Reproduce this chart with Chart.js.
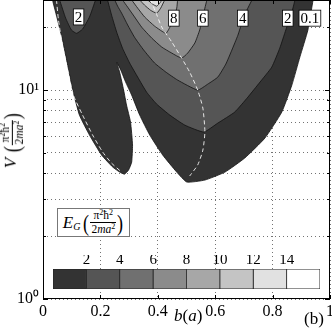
<!DOCTYPE html>
<html>
<head>
<meta charset="utf-8">
<script src="https://cdn.jsdelivr.net/npm/chart.js@4.4.1/dist/chart.umd.min.js"></script>
<style>
html, body { margin: 0; padding: 0; background: #fff; }
#wrap { position: relative; width: 332px; height: 328px; overflow: hidden; font-family: "Liberation Serif", serif; color: #000; }
#main { position: absolute; left: 0; top: 0; }
#cbar { position: absolute; left: 53px; top: 255px; }
.t { position: absolute; white-space: nowrap; line-height: 1; }
.frac { display: inline-block; vertical-align: middle; text-align: center; font-size: 11.5px; line-height: 1.1; }
.frac span { display: block; padding: 0 1px; }
.frac .num { border-bottom: 1px solid #000; }
.par { display: inline-block; font-size: 24px; vertical-align: middle; transform: scaleX(0.75); }
sup { font-size: 8px; vertical-align: 4px; line-height: 0; }
</style>
</head>
<body>
<div id="wrap">
  <canvas id="main" width="332" height="328"></canvas>
  <canvas id="cbar" width="267" height="34"></canvas>
  <div class="t" style="left:12px;top:140px;transform:translate(-50%,-50%) rotate(-90deg);font-size:17px">
    <i>V</i> <span class="par">(</span><span class="frac"><span class="num">π<sup>2</sup>ħ<sup>2</sup></span><span>2<i>ma</i><sup>2</sup></span></span><span class="par">)</span>
  </div>
  <div class="t" style="left:57px;top:208px;width:71px;height:27px;border:1px solid #777;background:#fff;font-size:17px;display:flex;align-items:center;justify-content:center">
    <i>E</i><span style="font-size:10px;position:relative;top:4px;margin-right:2px"><i>G</i></span><span class="par">(</span><span class="frac"><span class="num">π<sup>2</sup>ħ<sup>2</sup></span><span>2<i>ma</i><sup>2</sup></span></span><span class="par">)</span>
  </div>
  <div class="t" style="left:174px;top:307px;font-size:17px"><i>b</i>(<i>a</i>)</div>
  <div class="t" style="left:304px;top:310px;font-size:17px">(b)</div>
</div>
<script>
// grey levels of the filled contours (E_G bands 0.1-2, 2-4, ... 14-16)
const levelColors = ['#333333', '#555555', '#707070', '#8b8b8b', '#a7a7a7', '#c4c4c4', '#e1e1e1', '#ffffff'];
const cbLevels = [0, 2, 4, 6, 8, 10, 12, 14, 16];
const cbTickLabels = ['', '2', '4', '6', '8', '10', '12', '14', ''];

const xTicks = [0, 0.2, 0.4, 0.6, 0.8, 1];
const xTickLabels = ['0', '0.2', '0.4', '0.6', '0.8', '1'];
const yGrid = [1, 2, 3, 4, 5, 6, 7, 8, 9, 10, 20];
const yLabelValues = [1, 10];
const yLabelTexts = ['10\u2070', '10\u00b9'];

// contour outlines, [b, V]
const contour01 = [[0.033, 27], [0.051, 21.6], [0.068, 17.35], [0.086, 13.17], [0.103, 10.1], [0.127, 7.59],
  [0.162, 6.09], [0.204, 4.89], [0.243, 4.28], [0.267, 4.05], [0.284, 3.96], [0.298, 4.14], [0.309, 4.52],
  [0.312, 5.46], [0.305, 7.03], [0.291, 8.48], [0.281, 10], [0.267, 12.2], [0.257, 13.61], [0.271, 12.47],
  [0.288, 10.92], [0.309, 9.46], [0.337, 7.59], [0.372, 6.09], [0.417, 4.89], [0.466, 4.05], [0.501, 3.63],
  [0.564, 3.71], [0.634, 4.05], [0.703, 4.73], [0.773, 5.89], [0.832, 7.85], [0.867, 10.56], [0.895, 14.39],
  [0.923, 19.4], [0.941, 27]];
const contour2Left = [[0.058, 27], [0.079, 22.1], [0.099, 19.4], [0.117, 18.7], [0.138, 19.6], [0.162, 22.4], [0.183, 27]];
const contour2 = [[0.225, 27], [0.239, 22.85], [0.257, 18.9], [0.277, 15.88], [0.302, 13.47], [0.33, 11.54],
  [0.361, 9.78], [0.396, 8.57], [0.442, 7.59], [0.494, 6.8], [0.56, 6.3], [0.609, 6.95], [0.668, 7.85],
  [0.714, 9.26], [0.756, 10.92], [0.797, 12.88], [0.825, 15.88], [0.846, 19.4], [0.867, 23.6], [0.878, 27]];
const contour4 = [[0.25, 27], [0.26, 25.23], [0.274, 23.35], [0.295, 20.5], [0.319, 17.9], [0.351, 15.54],
  [0.389, 13.47], [0.428, 12.2], [0.469, 11.17], [0.539, 10], [0.574, 10.68], [0.609, 11.54], [0.637, 13.32],
  [0.658, 15.54], [0.679, 18.3], [0.696, 21.6], [0.71, 24.1], [0.728, 27]];
const contour6 = [[0.277, 27], [0.295, 24.96], [0.319, 22.4], [0.344, 20.0], [0.379, 17.74], [0.414, 16.06],
  [0.449, 15.03], [0.483, 14.23], [0.504, 15.03], [0.529, 16.8], [0.546, 19.4], [0.557, 22.4], [0.564, 24.68], [0.571, 27]];
const contour8 = [[0.309, 27], [0.33, 24.68], [0.354, 22.4], [0.389, 20.24], [0.428, 18.7], [0.442, 20.0],
  [0.456, 22.1], [0.466, 24.68], [0.469, 27]];
const contour10 = [[0.337, 27], [0.354, 25.5], [0.375, 24.1], [0.396, 23.35], [0.41, 24.68], [0.424, 27]];
const contour12 = [[0.365, 27], [0.382, 25.8], [0.396, 25.23], [0.407, 26.09], [0.414, 27]];

// dashed white ridges
const ridgeLeft = [[0.047, 27], [0.054, 21.6], [0.068, 16.4], [0.086, 12.47], [0.106, 9.46], [0.138, 7.59],
  [0.173, 6.09], [0.208, 5.05], [0.239, 4.47], [0.274, 4.05]];
const ridgeRight = [[0.375, 27], [0.393, 23.6], [0.414, 20.0], [0.449, 16.97], [0.483, 14.23], [0.511, 12.2],
  [0.539, 10], [0.557, 8.2], [0.564, 6.3], [0.557, 5.16], [0.539, 4.38], [0.511, 3.88]];

// inline contour labels
const contourLabelText = ['2', '8', '6', '4', '2', '0.1'];
const contourLabelB = [0.124, 0.456, 0.557, 0.696, 0.853, 0.93];
const contourLabelV = [22.4, 22.1, 22.1, 22.1, 22.1, 22.1];

const serif = 'Liberation Serif';
const toXY = pts => pts.map(p => ({ x: p[0], y: p[1] }));

function region(pts, color, order) {
  return {
    data: toXY(pts), showLine: true, fill: 'shape', backgroundColor: color,
    borderColor: '#111', borderWidth: 0.8, pointRadius: 0, pointHoverRadius: 0, tension: 0.15, order: order
  };
}

function ridge(pts) {
  return {
    data: toXY(pts), showLine: true, fill: false, borderColor: 'rgba(255,255,255,0.85)',
    borderWidth: 1, borderDash: [4, 3], pointRadius: 0, pointHoverRadius: 0, tension: 0.2, order: 0
  };
}

const contourLabels = {
  id: 'contourLabels',
  afterDraw(chart) {
    const { ctx, scales: { x, y } } = chart;
    ctx.save();
    ctx.font = '15px "' + serif + '"';
    ctx.textAlign = 'center';
    ctx.textBaseline = 'middle';
    contourLabelText.forEach((t, i) => {
      const px = x.getPixelForValue(contourLabelB[i]);
      const py = y.getPixelForValue(contourLabelV[i]);
      const w = ctx.measureText(t).width + 3;
      const h = 16;
      ctx.fillStyle = '#fff';
      ctx.fillRect(px - w / 2, py - h / 2, w, h);
      ctx.strokeStyle = '#000';
      ctx.lineWidth = 0.8;
      ctx.strokeRect(px - w / 2, py - h / 2, w, h);
      ctx.fillStyle = '#000';
      ctx.fillText(t, px, py + 1);
    });
    ctx.restore();
  }
};

const spines = {
  id: 'spines',
  afterDraw(chart) {
    const { ctx, chartArea: a, scales: { x, y } } = chart;
    ctx.save();
    ctx.strokeStyle = '#000';
    ctx.lineWidth = 1;
    ctx.strokeRect(a.left + 0.5, a.top + 0.5, a.right - a.left - 1, a.bottom - a.top - 1);
    ctx.beginPath();
    yGrid.forEach(v => {
      const py = Math.round(y.getPixelForValue(v)) + 0.5;
      const len = yLabelValues.includes(v) ? 5 : 3;
      ctx.moveTo(a.left, py); ctx.lineTo(a.left + len, py);
      ctx.moveTo(a.right, py); ctx.lineTo(a.right - len, py);
    });
    xTicks.forEach(v => {
      const px = Math.round(x.getPixelForValue(v)) + 0.5;
      ctx.moveTo(px, a.bottom); ctx.lineTo(px, a.bottom - 4);
      ctx.moveTo(px, a.top); ctx.lineTo(px, a.top + 4);
    });
    ctx.stroke();
    ctx.restore();
  }
};

new Chart(document.getElementById('main'), {
  type: 'scatter',
  data: {
    datasets: [
      ridge(ridgeLeft),
      ridge(ridgeRight),
      region(contour12, levelColors[6], 3),
      region(contour10, levelColors[5], 4),
      region(contour8, levelColors[4], 5),
      region(contour6, levelColors[3], 6),
      region(contour4, levelColors[2], 7),
      region(contour2, levelColors[1], 8),
      region(contour2Left, levelColors[1], 9),
      region(contour01, levelColors[0], 10)
    ]
  },
  options: {
    responsive: false,
    animation: false,
    events: [],
    layout: { padding: { top: 0, right: 2, left: 0, bottom: 0 } },
    plugins: { legend: { display: false }, tooltip: { enabled: false } },
    scales: {
      x: {
        type: 'linear', min: 0, max: 1, z: 1,
        afterBuildTicks: s => { s.ticks = xTicks.map(v => ({ value: v })); },
        afterFit: s => { s.height = 29; s.paddingLeft = 0; s.paddingRight = 0; },
        ticks: {
          callback: (v, i) => xTickLabels[i], font: { family: serif, size: 16 }, color: '#000',
          padding: 3, maxRotation: 0, autoSkip: false
        },
        grid: { color: 'rgba(0,0,0,0.55)', lineWidth: 1, drawTicks: false },
        border: { display: false, dash: [1, 3] }
      },
      y: {
        type: 'logarithmic', min: 1, max: 27, z: 1,
        afterBuildTicks: s => { s.ticks = yGrid.map(v => ({ value: v })); },
        afterFit: s => { s.width = 43; s.paddingTop = 0; s.paddingBottom = 0; },
        ticks: {
          callback: v => { const k = yLabelValues.indexOf(v); return k >= 0 ? yLabelTexts[k] : ''; },
          font: { family: serif, size: 16 }, color: '#000', padding: 4, autoSkip: false
        },
        grid: { color: 'rgba(0,0,0,0.55)', lineWidth: 1, drawTicks: false },
        border: { display: false, dash: [1, 3] }
      }
    }
  },
  plugins: [contourLabels, spines]
});

new Chart(document.getElementById('cbar'), {
  type: 'bar',
  data: {
    labels: [''],
    datasets: levelColors.map((c, i) => ({
      data: [cbLevels[i + 1] - cbLevels[i]], backgroundColor: c, borderColor: '#222',
      borderWidth: 0.8, borderSkipped: false, barPercentage: 1, categoryPercentage: 1
    }))
  },
  options: {
    indexAxis: 'y',
    responsive: false,
    animation: false,
    events: [],
    layout: { padding: 0 },
    plugins: { legend: { display: false }, tooltip: { enabled: false } },
    scales: {
      x: {
        stacked: true, position: 'top', min: 0, max: 16,
        afterBuildTicks: s => { s.ticks = cbLevels.map(v => ({ value: v })); },
        afterFit: s => { s.height = 14; s.paddingLeft = 0; s.paddingRight = 0; },
        ticks: { callback: (v, i) => cbTickLabels[i], font: { family: serif, size: 15 }, color: '#000', padding: 0, maxRotation: 0, autoSkip: false },
        grid: { display: false, drawTicks: false },
        border: { display: false }
      },
      y: { stacked: true, display: false }
    }
  }
});
</script>
</body>
</html>
